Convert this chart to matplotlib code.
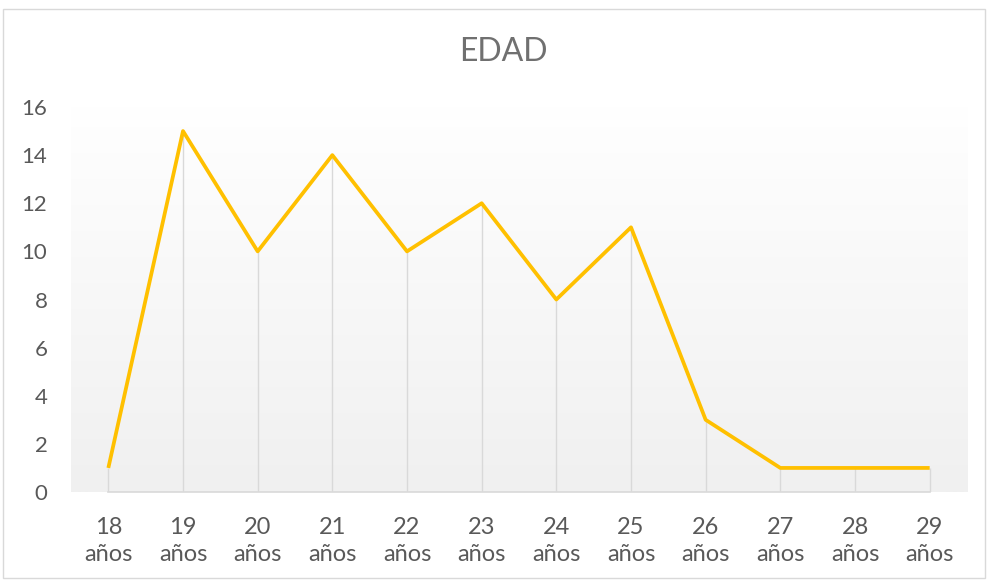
import numpy as np
import matplotlib.pyplot as plt
from matplotlib.patches import Rectangle

categories = ["18\naños", "19\naños", "20\naños", "21\naños", "22\naños", "23\naños",
              "24\naños", "25\naños", "26\naños", "27\naños", "28\naños", "29\naños"]
values = [1, 15, 10, 14, 10, 12, 8, 11, 3, 1, 1, 1]
y_ticks = [0, 2, 4, 6, 8, 10, 12, 14, 16]

plt.rcParams['font.family'] = ['Lato', 'DejaVu Sans']

fig = plt.figure(figsize=(9.88, 5.81), dpi=100)
fig.patches.append(Rectangle((3 / 988, 3 / 581), 982 / 988, 569 / 581, transform=fig.transFigure,
                             fill=False, edgecolor='#d9d9d9', linewidth=1))

ax = fig.add_axes([71 / 988, 1 - 492 / 581, 896 / 988, 385 / 581])
x = np.arange(len(values))

# gradient background of the plot area
grad = np.linspace(0, 1, 256).reshape(-1, 1)
ax.imshow(grad, cmap=plt.matplotlib.colors.LinearSegmentedColormap.from_list('g', ['#ffffff', '#f0f0f0']),
          extent=(-0.5, 11.5, 0, 16.3), aspect='auto', origin='upper', zorder=0)

ax.vlines(x, 0, values, color='#d9d9d9', linewidth=1, zorder=1)
ax.plot([0, 11], [0, 0], color='#d9d9d9', linewidth=1.2, zorder=1, clip_on=False)
ax.plot(x, values, color='#FFC000', linewidth=2.7, zorder=3, solid_capstyle='butt')

ax.set_xlim(-0.5, 11.5)
ax.set_ylim(0, 16)
ax.set_xticks(x)
ax.set_xticklabels(categories, fontsize=17, color='#595959', linespacing=1.38)
ax.set_yticks(y_ticks)
ax.set_yticklabels([str(v) for v in y_ticks], fontsize=16, color='#595959')
ax.tick_params(axis='both', length=0)
ax.tick_params(axis='x', pad=18)
ax.tick_params(axis='y', pad=17)
for s in ax.spines.values():
    s.set_visible(False)

fig.text(503 / 988, 1 - 52 / 581, "EDAD", fontsize=23, color='#707070', ha='center', va='center')

fig.savefig("out.png", dpi=100)
